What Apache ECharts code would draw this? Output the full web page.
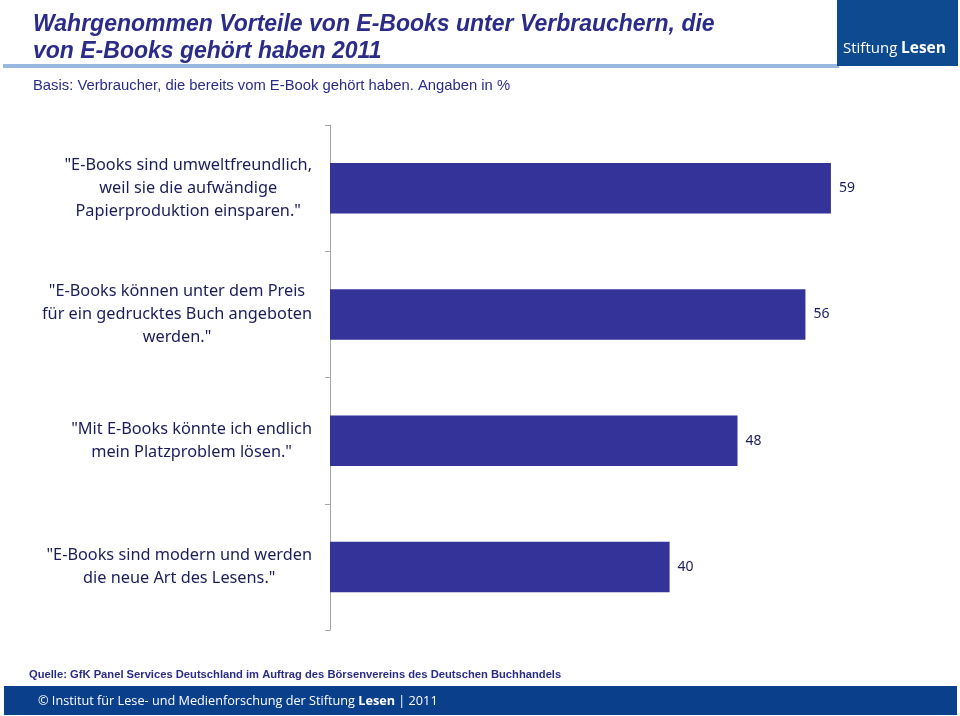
<!DOCTYPE html>
<html><head><meta charset="utf-8">
<script src="https://cdn.jsdelivr.net/npm/echarts@6/dist/echarts.min.js"></script>
<style>html,body{margin:0;padding:0;background:#fff}#c{width:960px;height:716px}</style>
</head><body><div id="c"></div>
<script>
const titleText = 'Wahrgenommen Vorteile von E-Books unter Verbrauchern, die\nvon E-Books gehört haben 2011';
const subtitleText = 'Basis: Verbraucher, die bereits vom E-Book gehört haben. Angaben in %';
const sourceText = 'Quelle: GfK Panel Services Deutschland im Auftrag des Börsenvereins des Deutschen Buchhandels';
const categories = [
  '"E-Books sind umweltfreundlich,\nweil sie die aufwändige\nPapierproduktion einsparen."',
  '"E-Books können unter dem Preis\nfür ein gedrucktes Buch angeboten\nwerden."',
  '"Mit E-Books könnte ich endlich\nmein Platzproblem lösen."',
  '"E-Books sind modern und werden\ndie neue Art des Lesens."'
];
const values = [59, 56, 48, 40];

const chart = echarts.init(document.getElementById('c'), null, {renderer: 'canvas'});
const navy = '#1c1c5a';
chart.setOption({
  animation: false,
  backgroundColor: '#fff',
  title: [{
    text: titleText, left: 28, top: 6,
    textStyle: {fontFamily: 'Liberation Sans', fontStyle: 'italic', fontWeight: 'bold', fontSize: 23, lineHeight: 27, color: '#2b2b8a'}
  }, {
    text: subtitleText, left: 28, top: 73,
    textStyle: {fontFamily: 'Liberation Sans', fontWeight: 'normal', fontSize: 14.8, color: '#2b2b8a'}
  }, {
    text: sourceText, left: 24, top: 664,
    textStyle: {fontFamily: 'Liberation Sans', fontWeight: 'bold', fontSize: 11.2, color: '#2b2b8a'}
  }],
  graphic: [
    {type: 'rect', shape: {x: 3, y: 64, width: 836, height: 4}, style: {fill: '#99b8e0'}},
    {type: 'rect', shape: {x: 837, y: 0, width: 121, height: 66}, style: {fill: '#0d4a8f'}},
    {type: 'text', x: 843, y: 49, style: {text: 'Stiftung', fill: '#fff', font: '15px "Open Sans"', textVerticalAlign: 'middle'}},
    {type: 'text', x: 901, y: 49, style: {text: 'Lesen', fill: '#fff', font: 'bold 15.5px "Open Sans"', textVerticalAlign: 'middle'}},
    {type: 'rect', shape: {x: 4, y: 686, width: 953, height: 29}, style: {fill: '#0a3f8c'}},
    {type: 'text', x: 38, y: 701, style: {
      text: '{a|© Institut für Lese- und Medienforschung der Stiftung }{b|Lesen}{a| | 2011}',
      textVerticalAlign: 'middle',
      rich: {a: {fill: '#fff', fontSize: 12.7, fontFamily: 'Open Sans'}, b: {fill: '#fff', fontSize: 12.7, fontWeight: 'bold', fontFamily: 'Open Sans'}}
    }}
  ],
  grid: {left: 330, top: 125, height: 505, width: 8.49 * 60, containLabel: false},
  xAxis: {type: 'value', min: 0, max: 60, show: false},
  yAxis: {
    type: 'category', data: categories, inverse: true,
    axisLine: {lineStyle: {color: '#a6a6a6', width: 1}},
    axisTick: {show: true, length: 5, lineStyle: {color: '#a6a6a6'}},
    axisLabel: {
      margin: 18, align: 'right',
      formatter: v => v.split('\n').map(l => '{c|' + l + '}').join('\n'),
      rich: {c: {align: 'center', fontFamily: 'Noto Sans', fontSize: 16.3, lineHeight: 23, color: navy}}
    }
  },
  series: [{
    type: 'bar', data: values, barWidth: '40%',
    itemStyle: {color: '#333399'},
    label: {show: true, position: 'right', distance: 8, fontFamily: 'Noto Sans', fontSize: 14, color: navy}
  }]
});
</script></body></html>
